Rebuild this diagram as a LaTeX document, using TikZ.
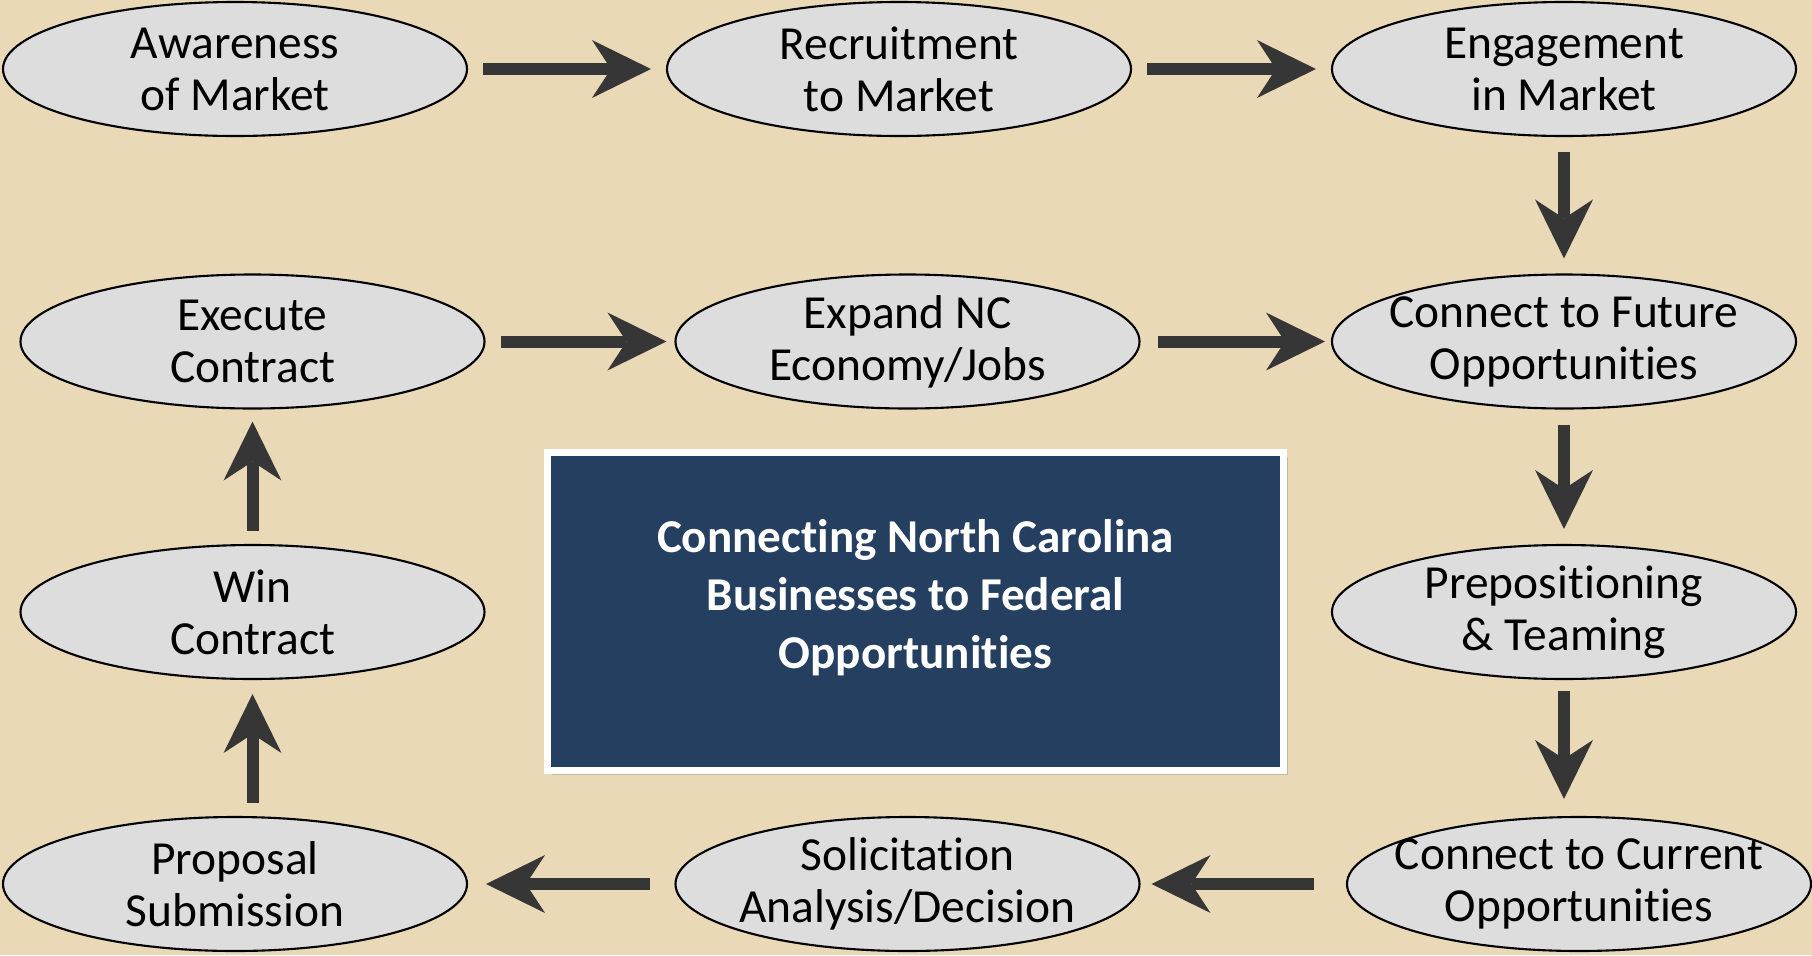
\documentclass[tikz,border=0pt]{standalone}
\usepackage{fontspec}
\setmainfont{Carlito}[Ligatures=NoCommon]
\usetikzlibrary{shapes.geometric}
\usetikzlibrary{arrows.meta}
\usetikzlibrary{shadows}
\definecolor{bgtan}{RGB}{233,217,182}
\definecolor{stagegray}{RGB}{221,221,221}
\definecolor{arrowgray}{RGB}{54,54,54}
\definecolor{ncnavy}{RGB}{37,63,96}
\tikzset{
    stage/.style = {ellipse,draw=black,line width=0.6pt,fill=stagegray,minimum width=4.64cm,minimum height=1.34cm,
        inner xsep=-0.4cm,inner ysep=-0.15cm,align=center,font=\fontsize{13.5}{14.8}\selectfont},
    flow/.style = {draw=arrowgray,line width=0.12cm,-{Stealth[length=0.59cm,width=0.58cm,inset=0.19cm,line width=0pt]},
        shorten <=0.15cm,shorten >=0.15cm},
    titlebox/.style = {rectangle,draw=white,line width=0.07cm,fill=ncnavy,minimum width=7.36cm,minimum height=3.18cm,
        drop shadow={shadow xshift=0.04cm,shadow yshift=-0.05cm,opacity=0.35}},
    titletext/.style = {text=white,align=center,font=\bfseries\fontsize{13.4}{16.5}\selectfont}}
\begin{document}
\begin{tikzpicture}
    \fill[bgtan] (0,0) rectangle (18.12,-9.55);
    \useasboundingbox (0,0) rectangle (18.12,-9.55);
    % top row
    \path (2.35,-0.69) node[stage] (aware) {Awareness\\of Market}
        + (6.64,0) node[stage] (recruit) {Recruitment\\to Market}
        + (13.29,0) node[stage] (engage) {Engagement\\in Market};
    % middle rows
    \path (2.525,-3.415) node[stage] (execute) {Execute\\Contract}
        + (6.55,0) node[stage] (expand) {Expand NC\\Economy/Jobs}
        + (13.115,0) node[stage] (future) {Connect to Future\\Opportunities}
        ++ (0,-2.705) node[stage] (win) {Win\\Contract}
        + (13.115,0) node[stage] (prep) {Prepositioning\\\& Teaming};
    % bottom row
    \path (2.35,-8.84) node[stage] (proposal) {Proposal\\Submission}
        + (6.725,0) node[stage] (solicit) {Solicitation\\Analysis/Decision}
        + (13.44,0) node[stage] (current) {Connect to Current\\Opportunities};
    \node[titlebox] (box) at (9.155,-6.11) {};
    \node[titletext] (title) at ([yshift=0.13cm]box.center) {Connecting North Carolina\\Businesses to Federal\\Opportunities};
    \draw[flow] (aware) -- (recruit);
    \draw[flow] (recruit) -- (engage);
    \draw[flow] (engage) -- (future);
    \draw[flow] (future) -- (prep);
    \draw[flow,shorten <=0.11cm,shorten >=0.17cm] (prep) -- (prep |- current.north);
    \draw[flow,shorten <=0.32cm,shorten >=0.11cm] (current) -- (solicit);
    \draw[flow,shorten <=0.24cm,shorten >=0.18cm] (solicit) -- (proposal);
    \draw[flow,shorten <=0.13cm,shorten >=0.14cm] (proposal.north -| win) -- (win);
    \draw[flow,shorten <=0.13cm,shorten >=0.12cm] (win) -- (execute);
    \draw[flow,shorten >=0.08cm] (execute) -- (expand);
    \draw[flow,shorten <=0.17cm,shorten >=0.06cm] (expand) -- (future);
\end{tikzpicture}
\end{document}
